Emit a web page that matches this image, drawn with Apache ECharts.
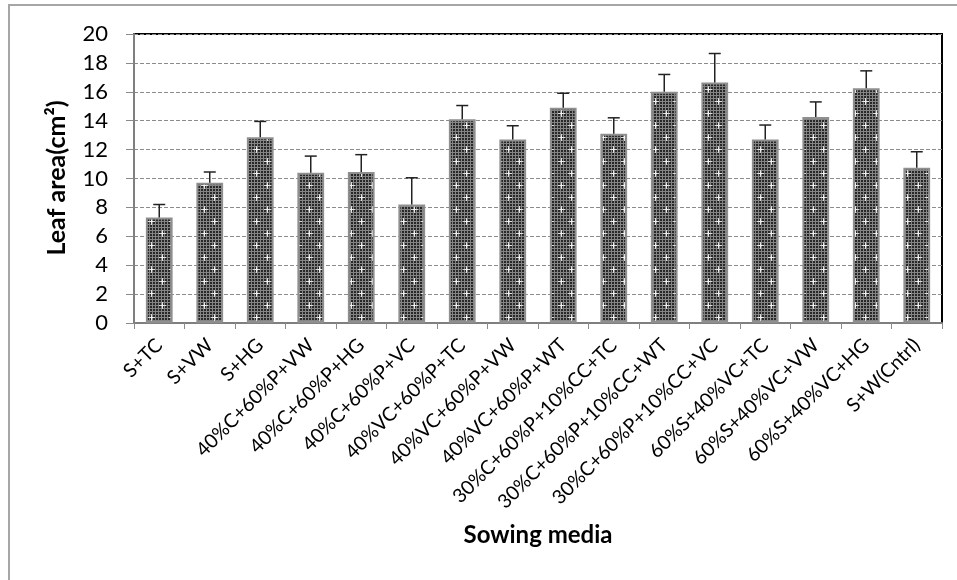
<!DOCTYPE html>
<html>
<head>
<meta charset="utf-8">
<script src="https://cdn.jsdelivr.net/npm/echarts@6/dist/echarts.min.js"></script>
<style>
html,body{margin:0;padding:0;background:#fff;}
#chart{width:957px;height:580px;}
</style>
</head>
<body>
<div id="chart"></div>
<script>
const categories = ['S+TC','S+VW','S+HG','40%C+60%P+VW','40%C+60%P+HG','40%C+60%P+VC','40%VC+60%P+TC','40%VC+60%P+VW','40%VC+60%P+WT','30%C+60%P+10%CC+TC','30%C+60%P+10%CC+WT','30%C+60%P+10%CC+VC','60%S+40%VC+TC','60%S+40%VC+VW','60%S+40%VC+HG','S+W(Cntrl)'];
const leafArea = [7.3, 9.7, 12.85, 10.4, 10.45, 8.2, 14.1, 12.7, 14.9, 13.1, 16.0, 16.65, 12.7, 14.25, 16.25, 10.75];
const errorUp = [0.9, 0.75, 1.1, 1.15, 1.2, 1.85, 0.95, 0.95, 1.0, 1.1, 1.2, 2.0, 1.0, 1.05, 1.2, 1.1];
const yAxisName = 'Leaf area(cm²)';
const xAxisName = 'Sowing media';

function makePattern() {
  const c = document.createElement('canvas');
  c.width = 21; c.height = 24;
  const ctx = c.getContext('2d');
  ctx.fillStyle = '#858585';
  ctx.fillRect(0, 0, 21, 24);
  ctx.fillStyle = '#282828';
  for (let y = 0; y < 24; y += 3) {
    for (let x = 0; x < 21; x += 3) {
      ctx.fillRect(x, y, 2, 2);
    }
  }
  function plus(cx, cy) {
    ctx.fillStyle = '#dcdcdc';
    ctx.fillRect(cx - 3, cy, 7, 1);
    ctx.fillRect(cx, cy - 3, 1, 7);
    ctx.fillStyle = '#f0f0f0';
    ctx.fillRect(cx - 1, cy, 3, 1);
    ctx.fillRect(cx, cy - 1, 1, 3);
  }
  plus(4, 5);
  plus(15, 17);
  return c;
}

const chart = echarts.init(document.getElementById('chart'), null, {renderer: 'canvas'});
const FONT = 'Lato, "Open Sans", sans-serif';

chart.setOption({
  animation: false,
  backgroundColor: '#fff',
  grid: {left: 134, right: 15, top: 34, bottom: 257, show: true, borderColor: '#000', borderWidth: 2, backgroundColor: 'transparent'},
  xAxis: {
    type: 'category',
    data: categories,
    axisLine: {lineStyle: {color: '#7f7f7f', width: 2}},
    axisTick: {show: true, length: 6, lineStyle: {color: '#8a8a8a', width: 1}},
    axisLabel: {rotate: 45, interval: 0, fontSize: 19.5, color: '#000', fontFamily: FONT, margin: 19}
  },
  yAxis: {
    type: 'value',
    min: 0, max: 20, interval: 2,
    axisLine: {show: true, lineStyle: {color: '#7f7f7f', width: 2}},
    axisTick: {show: true, length: 8, lineStyle: {color: '#8a8a8a', width: 1}},
    axisLabel: {fontSize: 22, color: '#000', fontFamily: FONT, margin: 26},
    splitLine: {show: true, lineStyle: {color: '#8c8c8c', type: [4, 2], width: 1}}
  },
  series: [
    {
      type: 'bar',
      data: leafArea,
      barWidth: '53%',
      itemStyle: {color: {image: makePattern(), repeat: 'repeat'}, borderColor: '#8f8f8f', borderWidth: 2}
    },
    {
      type: 'custom',
      data: leafArea.map((v, i) => [i, v, errorUp[i]]),
      z: 5,
      renderItem: function (params, api) {
        const i = api.value(0);
        const base = api.coord([i, api.value(1)]);
        const top = api.coord([i, api.value(1) + api.value(2)]);
        const hw = 6;
        return {
          type: 'group',
          children: [
            {type: 'line', shape: {x1: base[0], y1: base[1], x2: top[0], y2: top[1]}, style: {stroke: '#222', lineWidth: 1.5}},
            {type: 'line', shape: {x1: top[0] - hw, y1: top[1], x2: top[0] + hw, y2: top[1]}, style: {stroke: '#222', lineWidth: 1.5}}
          ]
        };
      }
    }
  ],
  graphic: [
    {type: 'polyline', shape: {points: [[9, 580], [9, 5], [957, 5]]}, style: {stroke: '#a6a6a6', lineWidth: 2, fill: null}, silent: true},
    {type: 'text', x: 538, y: 535, style: {text: xAxisName, fontSize: 24, fontWeight: 'bold', fill: '#000', fontFamily: FONT, align: 'center', verticalAlign: 'middle'}},
    {type: 'text', x: 57, y: 178, rotation: Math.PI / 2, style: {text: yAxisName, fontSize: 25, fontWeight: 'bold', fill: '#000', fontFamily: FONT, align: 'center', verticalAlign: 'middle'}}
  ]
});
</script>
</body>
</html>
